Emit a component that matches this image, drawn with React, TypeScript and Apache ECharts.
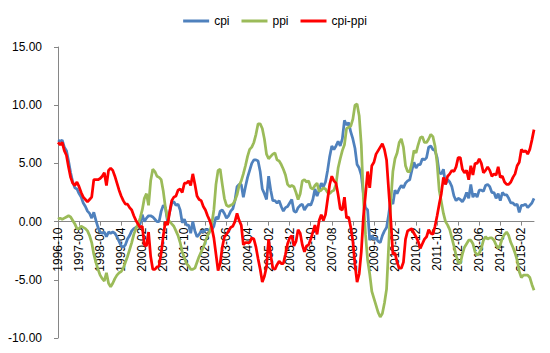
import React, { useEffect, useRef } from "react";
import * as echarts from "echarts";

// Monthly series from 1996-10 through 2015-08
const startYear = 1996;
const startMonth = 10;

const cpi = [
  // 1996 (Oct-Dec)
  7.0, 6.9, 7.0,
  // 1997
  6.4, 6.1, 5.2, 4.2, 3.4, 2.9, 2.8, 2.4, 2.1, 1.6, 1.3, 0.9,
  // 1998
  0.7, 0.3, 0.8, 0.1, -0.5, -0.9, -1.0, -0.9, -1.3, -0.9, -1.0, -0.9,
  // 1999
  -1.0, -1.3, -1.7, -2.1, -2.2, -2.0, -1.5, -1.2, -0.8, -0.6, -0.5, -0.4,
  // 2000
  -0.2, 0.6, 0.0, 0.3, 0.5, 0.5, 0.4, 0.2, 0.0, 0.0, 0.9, 1.4,
  // 2001
  1.2, 0.0, 0.8, 1.6, 1.7, 1.4, 1.5, 1.0, -0.1, 0.2, -0.3, -0.3,
  // 2002
  -1.0, 0.0, -0.8, -1.3, -1.1, -0.8, -0.9, -0.7, -0.7, -0.8, -0.7, -0.4,
  // 2003
  0.4, 0.2, 0.9, 1.0, 0.7, 0.3, 0.5, 0.9, 1.1, 1.8, 3.0, 3.2,
  // 2004
  3.2, 2.1, 3.0, 3.8, 4.4, 5.0, 5.3, 5.3, 5.2, 4.3, 2.8, 2.4,
  // 2005
  1.9, 3.9, 2.7, 1.8, 1.8, 1.6, 1.8, 1.3, 0.9, 1.2, 1.3, 1.6,
  // 2006
  1.9, 0.9, 0.8, 1.2, 1.4, 1.5, 1.0, 1.3, 1.5, 1.4, 1.9, 2.8,
  // 2007
  2.2, 2.7, 3.3, 3.0, 3.4, 4.4, 5.6, 6.5, 6.2, 6.5, 6.9, 6.5,
  // 2008
  7.1, 8.7, 8.3, 8.5, 7.7, 7.1, 6.3, 4.9, 4.6, 4.0, 2.4, 1.2,
  // 2009
  1.0, -1.6, -1.2, -1.5, -1.4, -1.7, -1.8, -1.2, -0.8, -0.5, 0.6, 1.9,
  // 2010
  1.5, 2.7, 2.4, 2.8, 3.1, 2.9, 3.3, 3.5, 3.6, 4.4, 5.1, 4.6,
  // 2011
  4.9, 4.9, 5.4, 5.3, 5.5, 6.4, 6.5, 6.2, 6.1, 5.5, 4.2, 4.1,
  // 2012
  4.5, 3.2, 3.6, 3.4, 3.0, 2.2, 1.8, 2.0, 1.9, 1.7, 2.0, 2.5,
  // 2013
  2.0, 3.2, 2.1, 2.4, 2.1, 2.7, 2.7, 2.6, 3.1, 3.2, 3.0, 2.5,
  // 2014
  2.5, 2.0, 2.4, 1.8, 2.5, 2.3, 2.3, 2.0, 1.6, 1.6, 1.4, 1.5,
  // 2015 (Jan-Aug)
  0.8, 1.4, 1.4, 1.5, 1.2, 1.4, 1.6, 2.0,
];

const ppi = [
  // 1996 (Oct-Dec)
  0.2, 0.3, 0.2,
  // 1997
  0.3, 0.4, 0.5, 0.4, 0.1, -0.2, -0.6, -0.6, -0.4, -0.5, -0.6, -0.8,
  // 1998
  -1.2, -1.8, -2.8, -3.5, -4.1, -4.6, -4.9, -5.1, -4.4, -5.3, -5.6, -5.3,
  // 1999
  -4.9, -4.6, -4.4, -4.3, -4.0, -3.5, -3.0, -2.4, -1.8, -1.1, -0.6, -0.2,
  // 2000
  0.3, 1.0, 2.0, 2.4, 1.4, 3.5, 4.5, 4.3, 3.9, 3.8, 3.6, 2.6,
  // 2001
  1.2, 0.3, 0.0, -0.2, -0.4, -0.8, -1.2, -1.8, -2.6, -3.1, -3.6, -3.8,
  // 2002
  -4.1, -4.1, -4.0, -3.5, -3.0, -2.6, -2.2, -1.7, -1.2, -0.9, -0.2, 1.0,
  // 2003
  3.2, 4.4, 4.5, 3.2, 2.0, 1.4, 1.3, 1.4, 1.5, 1.8, 2.3, 3.1,
  // 2004
  3.5, 4.1, 4.8, 5.6, 6.2, 6.4, 6.8, 7.5, 8.4, 8.4, 8.0, 7.1,
  // 2005
  5.8, 5.4, 5.6, 5.8, 5.9, 5.3, 5.2, 4.9, 4.5, 4.0, 3.2, 3.0,
  // 2006
  3.1, 3.0, 2.5, 1.9, 2.4, 3.5, 3.6, 3.4, 3.5, 2.9, 2.8, 3.1,
  // 2007
  3.3, 2.6, 2.7, 2.9, 2.8, 2.5, 2.4, 2.6, 2.7, 3.2, 4.6, 5.4,
  // 2008
  6.1, 6.6, 8.0, 8.1, 8.2, 8.8, 10.0, 10.1, 9.1, 6.6, 2.0, -1.1,
  // 2009
  -3.3, -4.5, -6.0, -6.6, -7.2, -7.8, -8.2, -7.9, -7.0, -5.8, -2.1, 1.7,
  // 2010
  4.3, 5.4, 5.9, 6.8, 7.1, 6.4, 4.8, 4.3, 4.3, 5.0, 6.1, 5.9,
  // 2011
  6.6, 7.2, 7.3, 6.8, 6.8, 7.1, 7.5, 7.3, 6.5, 5.0, 2.7, 1.7,
  // 2012
  0.7, 0.0, -0.3, -0.7, -1.4, -2.1, -2.9, -3.5, -3.6, -2.8, -2.2, -1.9,
  // 2013
  -1.6, -1.6, -1.9, -2.6, -2.9, -2.7, -2.3, -1.6, -1.3, -1.5, -1.4, -1.4,
  // 2014
  -1.6, -2.0, -2.3, -2.0, -1.4, -1.1, -0.9, -1.2, -1.8, -2.2, -2.7, -3.3,
  // 2015 (Jan-Aug)
  -4.3, -4.8, -4.6, -4.6, -4.6, -4.8, -5.4, -5.9,
];

// cpi-ppi spread, derived from the two series above
const cpiMinusPpi = cpi.map((v, i) => Math.round((v - ppi[i]) * 100) / 100);

const categories: string[] = [];
for (let k = 0; k < cpi.length; k++) {
  const m = startMonth - 1 + k;
  const y = startYear + Math.floor(m / 12);
  const mm = (m % 12) + 1;
  categories.push(`${y}-${mm < 10 ? "0" + mm : mm}`);
}

const seriesNames = ["cpi", "ppi", "cpi-ppi"];
const seriesColors = ["#4F81BD", "#9BBB59", "#FF0000"];

const yMin = -10;
const yMax = 15;
const yStep = 5;
const xLabelEvery = 10;

const FONT = "Arial, 'Liberation Sans', sans-serif";

const W = 550;
const H = 353;
const gridLeft = 58;
const gridRight = 16;
const gridTop = 47;
const gridBottom = 15;

export default function App() {
  const ref = useRef<HTMLDivElement>(null);

  useEffect(() => {
    if (!ref.current) return;
    const chart = echarts.init(ref.current, null, { renderer: "svg" });
    const dataSets = [cpi, ppi, cpiMinusPpi];
    const plotH = H - gridTop - gridBottom;
    // second grid whose bottom edge sits on the value 0 line (category axis crossing at zero)
    const zeroBottom = gridBottom + (plotH * (0 - yMin)) / (yMax - yMin);
    chart.setOption({
      animation: false,
      backgroundColor: "#ffffff",
      textStyle: { fontFamily: FONT },
      legend: {
        top: 10,
        left: "center",
        itemWidth: 26,
        itemHeight: 12,
        itemGap: 12,
        icon: "path://M0,5 L26,5 L26,8 L0,8 Z",
        data: seriesNames,
        textStyle: { fontSize: 12, color: "#000", fontFamily: FONT },
      },
      grid: [
        {
          left: gridLeft,
          right: gridRight,
          top: gridTop,
          bottom: gridBottom,
          containLabel: false,
          outerBoundsMode: "none",
        },
        {
          left: gridLeft,
          right: gridRight,
          top: gridTop,
          bottom: zeroBottom,
          containLabel: false,
          outerBoundsMode: "none",
        },
      ],
      xAxis: [
        {
          type: "category",
          gridIndex: 0,
          data: categories,
          boundaryGap: false,
          axisLine: { show: false },
          axisTick: { show: false },
          axisLabel: { show: false },
          splitLine: { show: false },
        },
        {
          type: "category",
          gridIndex: 1,
          data: categories,
          boundaryGap: false,
          position: "bottom",
          axisLine: { show: true, onZero: false, lineStyle: { color: "#868686", width: 1 } },
          axisTick: {
            show: true,
            interval: xLabelEvery - 1,
            length: 4,
            lineStyle: { color: "#868686" },
          },
          axisLabel: {
            interval: xLabelEvery - 1,
            rotate: 90,
            fontSize: 12,
            color: "#000",
            margin: 6,
            fontFamily: FONT,
          },
          splitLine: { show: false },
        },
      ],
      yAxis: [
        {
          type: "value",
          gridIndex: 0,
          min: yMin,
          max: yMax,
          interval: yStep,
          axisLine: { show: true, onZero: false, lineStyle: { color: "#868686", width: 1 } },
          axisTick: { show: true, length: 4, lineStyle: { color: "#868686" } },
          axisLabel: {
            fontSize: 12,
            color: "#000",
            margin: 16,
            fontFamily: FONT,
            formatter: (v: number) => v.toFixed(2),
          },
          splitLine: { show: false },
        },
        {
          type: "value",
          gridIndex: 1,
          min: 0,
          max: 1,
          show: false,
          axisLine: { show: false, onZero: false },
          splitLine: { show: false },
        },
      ],
      series: dataSets.map((d, k) => ({
        name: seriesNames[k],
        type: "line",
        xAxisIndex: 0,
        yAxisIndex: 0,
        data: d,
        symbol: "none",
        smooth: false,
        color: seriesColors[k],
        lineStyle: { color: seriesColors[k], width: 2.75 },
        itemStyle: { color: seriesColors[k] },
        z: 2 + k,
      })),
    });
    return () => chart.dispose();
  }, []);

  return (
    <div
      ref={ref}
      style={{ position: "absolute", left: 0, top: 0, width: W, height: H }}
    />
  );
}
